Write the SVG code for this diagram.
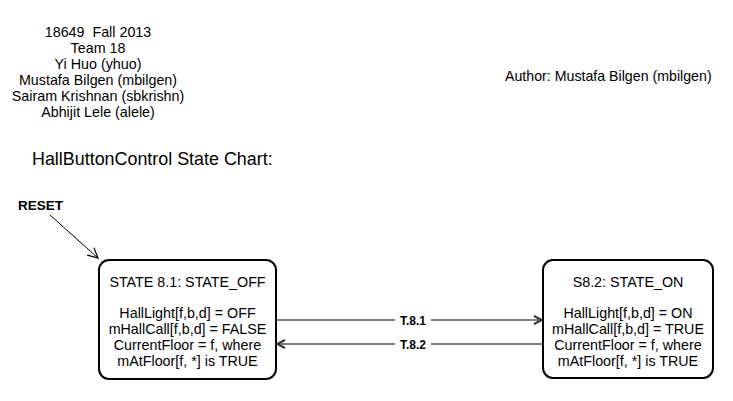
<svg xmlns="http://www.w3.org/2000/svg" width="733" height="401" viewBox="0 0 733 401">
<style>
text{font-family:"Liberation Sans",Arial,sans-serif;fill:#000}
.t{font-size:14.3px;text-anchor:middle}
.st{fill:#fff;stroke:#000;stroke-width:2}
.edge{stroke:#808080;stroke-width:2;fill:none}
.lbl{font-size:12px;font-weight:bold;text-anchor:middle}
</style>
<defs>
<marker id="ah" markerWidth="10" markerHeight="10" refX="9" refY="5" orient="auto" markerUnits="userSpaceOnUse">
<path d="M1,1 L9,5 L1,9" fill="none" stroke="#333" stroke-width="2"/>
</marker>
<marker id="ah2" markerWidth="12" markerHeight="12" refX="11" refY="6" orient="auto" markerUnits="userSpaceOnUse">
<path d="M1,1 L11,6 L1,11" fill="none" stroke="#000" stroke-width="1.2"/>
</marker>
</defs>
<rect width="733" height="401" fill="#fff"/>
<g id="header">
<text class="t" x="98" y="37" xml:space="preserve" style="white-space:pre">18649  Fall 2013</text>
<text class="t" x="98" y="53">Team 18</text>
<text class="t" x="98" y="69">Yi Huo (yhuo)</text>
<text class="t" x="98" y="85">Mustafa Bilgen (mbilgen)</text>
<text class="t" x="98" y="101">Sairam Krishnan (sbkrishn)</text>
<text class="t" x="98" y="117">Abhijit Lele (alele)</text>
<text x="505" y="81" style="font-size:14.2px">Author: Mustafa Bilgen (mbilgen)</text>
<text x="32" y="165" style="font-size:17.9px">HallButtonControl State Chart:</text>
</g>
<g id="reset">
<text x="18" y="210" style="font-size:13.5px;font-weight:bold">RESET</text>
</g>
<g id="connectors">
<line x1="50" y1="215" x2="98" y2="258" stroke="#000" stroke-width="1" marker-end="url(#ah2)"/>
<line class="edge" x1="277" y1="320" x2="542" y2="320" marker-end="url(#ah)"/>
<line class="edge" x1="542" y1="344" x2="277" y2="344" marker-end="url(#ah)"/>
<rect x="395" y="313" width="36" height="14" fill="#fff"/>
<text class="lbl" x="413" y="325">T.8.1</text>
<rect x="395" y="337" width="36" height="14" fill="#fff"/>
<text class="lbl" x="413" y="349">T.8.2</text>
</g>
<g id="state_off">
<rect class="st" x="99" y="260" width="177" height="119" rx="10"/>
<text class="t" x="187.5" y="287">STATE 8.1: STATE_OFF</text>
<text class="t" x="187.5" y="318">HallLight[f,b,d] = OFF</text>
<text class="t" x="187.5" y="334">mHallCall[f,b,d] = FALSE</text>
<text class="t" x="187.5" y="350">CurrentFloor = f, where</text>
<text class="t" x="187.5" y="366">mAtFloor[f, *] is TRUE</text>
</g>
<g id="state_on">
<rect class="st" x="543" y="260" width="170" height="118" rx="10"/>
<text class="t" x="628" y="287">S8.2: STATE_ON</text>
<text class="t" x="628" y="318">HallLight[f,b,d] = ON</text>
<text class="t" x="628" y="334">mHallCall[f,b,d] = TRUE</text>
<text class="t" x="628" y="350">CurrentFloor = f, where</text>
<text class="t" x="628" y="366">mAtFloor[f, *] is TRUE</text>
</g>
</svg>
